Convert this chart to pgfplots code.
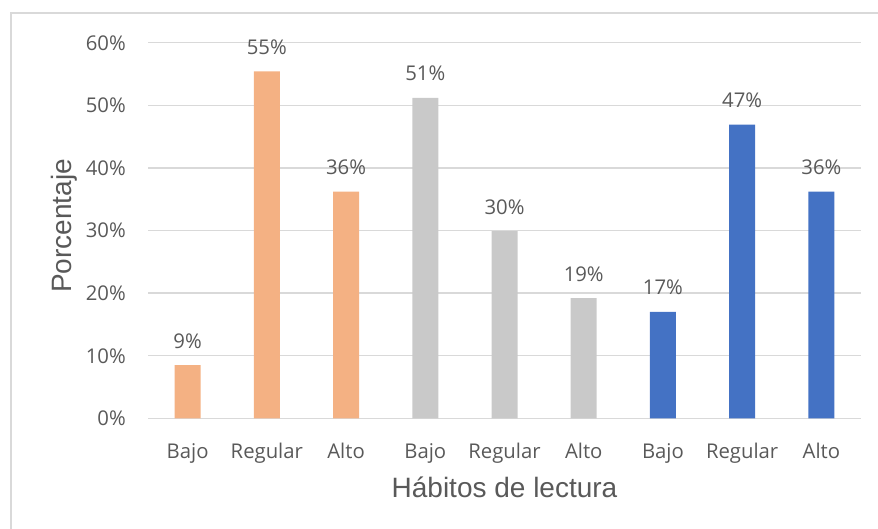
\documentclass[border=0pt]{standalone}
\usepackage{pgfplots}
\pgfplotsset{compat=1.18}
\usepackage{fontspec}
\setmainfont{Open Sans}
\newfontfamily\arialf{Liberation Sans}
\definecolor{txt}{HTML}{595959}
\definecolor{gridc}{HTML}{D9D9D9}
\definecolor{cOrange}{HTML}{F4B183}
\definecolor{cGray}{HTML}{C9C9C9}
\definecolor{cBlue}{HTML}{4472C4}
\begin{document}
\begin{tikzpicture}
\useasboundingbox (0,0) rectangle (878bp,529bp);
\draw[color=gridc, line width=1.5bp] (11bp,0) -- (11bp,516bp) -- (878bp,516bp);
\begin{axis}[
  at={(148bp,110.7bp)}, anchor=south west,
  scale only axis, width=713bp, height=375.6bp,
  xmin=-0.5, xmax=8.5, ymin=0, ymax=60,
  axis lines*=left, axis line style={draw=none},
  major tick length=0pt,
  ymajorgrids, grid style={color=gridc, line width=1.5bp},
  ytick={0,10,...,60},
  yticklabel={\pgfmathprintnumber{\tick}\%},
  /pgf/number format/assume math mode=true,
  xtick={0,...,8},
  xticklabels={Bajo,Regular,Alto,Bajo,Regular,Alto,Bajo,Regular,Alto},
  tick label style={font=\fontsize{20.3bp}{26bp}\selectfont, color=txt, inner sep=0pt},
  y tick label style={anchor=base east, xshift=-22bp, yshift=-7.5bp},
  x tick label style={anchor=base, yshift=-40bp},
  xlabel={Hábitos de lectura},
  ylabel={Porcentaje},
  label style={font=\arialf\fontsize{28bp}{32bp}\selectfont, color=txt, inner sep=0pt},
  xlabel style={at={(axis description cs:0.5,-0.2103)}, anchor=base},
  ylabel style={at={(axis description cs:-0.1070,0.512)}, anchor=base},
  bar shift=0pt, bar width=26bp,
  point meta=explicit symbolic,
  nodes near coords={\pgfplotspointmeta\%},
  every node near coord/.append style={font=\fontsize{20.3bp}{26bp}\selectfont, color=txt, anchor=base, yshift=17bp, inner sep=0pt},
]
\addplot[ybar, fill=cOrange, draw=none] coordinates {(0,8.5) [9] (1,55.4) [55] (2,36.2) [36]};
\addplot[ybar, fill=cGray, draw=none] coordinates {(3,51.2) [51] (4,29.9) [30] (5,19.2) [19]};
\addplot[ybar, fill=cBlue, draw=none] coordinates {(6,17.0) [17] (7,46.9) [47] (8,36.2) [36]};
\end{axis}
\end{tikzpicture}
\end{document}
